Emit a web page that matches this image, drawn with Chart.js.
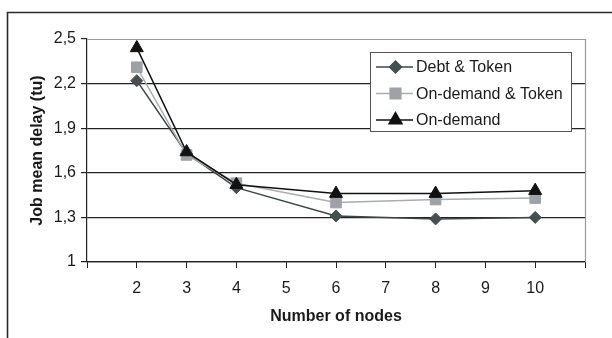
<!DOCTYPE html>
<html>
<head>
<meta charset="utf-8">
<script src="https://cdn.jsdelivr.net/npm/chart.js@4.4.1/dist/chart.umd.min.js"></script>
<style>
html,body{margin:0;padding:0;background:#fff;}
#wrap{position:relative;width:612px;height:338px;}
</style>
</head>
<body>
<div id="wrap"><canvas id="c" width="612" height="338"></canvas></div>
<script>
const nodes = [2, 3, 4, 6, 8, 10];
const debtToken = [2.22, 1.73, 1.50, 1.31, 1.29, 1.30];
const onDemandToken = [2.31, 1.72, 1.53, 1.40, 1.42, 1.43];
const onDemand = [2.44, 1.74, 1.52, 1.46, 1.46, 1.48];
const seriesNames = ['Debt & Token', 'On-demand & Token', 'On-demand'];
const xTitle = 'Number of nodes';
const yTitle = 'Job mean delay (tu)';

const FONT = "'Liberation Sans', Arial, sans-serif";
const toPts = arr => nodes.map((x, i) => ({x: x, y: arr[i]}));

const styles = [
  {color: '#3d4747', fill: '#454f4f', style: 'rectRot', radius: 6, order: 3},
  {color: '#a9adb1', fill: '#9ea2a7', style: 'rect', radius: 7.5, order: 2},
  {color: '#111111', fill: '#111111', style: 'triangle', radius: 7.5, order: 1}
];
const values = [debtToken, onDemandToken, onDemand];

const frame = {
  id: 'frame',
  beforeDraw(chart) {
    const ctx = chart.ctx;
    ctx.save();
    ctx.fillStyle = '#fff';
    ctx.fillRect(0, 0, chart.width, chart.height);
    ctx.strokeStyle = '#2a2a2a';
    ctx.lineWidth = 1.6;
    ctx.beginPath();
    ctx.moveTo(7.5, 338);
    ctx.lineTo(7.5, 12.5);
    ctx.lineTo(612, 12.5);
    ctx.stroke();
    ctx.restore();
  },
  afterDraw(chart) {
    const ctx = chart.ctx;
    const a = chart.chartArea;
    ctx.save();
    ctx.strokeStyle = '#9a9a9a';
    ctx.lineWidth = 1.2;
    ctx.beginPath();
    ctx.moveTo(a.left, a.top + 0.5);
    ctx.lineTo(a.right + 0.5, a.top + 0.5);
    ctx.lineTo(a.right + 0.5, a.bottom);
    ctx.stroke();
    // legend
    const bx = 370.5, by = 52.5, bw = 201, bh = 79;
    ctx.fillStyle = '#fff';
    ctx.fillRect(bx, by, bw, bh);
    ctx.strokeStyle = '#555';
    ctx.lineWidth = 1;
    ctx.strokeRect(bx, by, bw, bh);
    const rows = [67, 93.5, 120];
    chart.data.datasets.forEach((ds, i) => {
      const y = rows[i];
      ctx.strokeStyle = ds.borderColor;
      ctx.lineWidth = 1.5;
      ctx.beginPath();
      ctx.moveTo(376, y);
      ctx.lineTo(413, y);
      ctx.stroke();
      ctx.fillStyle = ds.pointBackgroundColor;
      ctx.strokeStyle = ds.pointBorderColor;
      Chart.helpers.drawPoint(ctx, {
        pointStyle: ds.pointStyle,
        radius: ds.pointRadius,
        rotation: 0,
        borderWidth: 1
      }, 395.5, y);
      ctx.fillStyle = '#1a1a1a';
      ctx.font = '16px ' + FONT;
      ctx.textAlign = 'left';
      ctx.textBaseline = 'middle';
      ctx.fillText(ds.label, 416, y + 1);
    });
    ctx.restore();
  }
};

new Chart(document.getElementById('c'), {
  type: 'line',
  data: {
    datasets: values.map((v, i) => ({
      label: seriesNames[i],
      data: toPts(v),
      borderColor: styles[i].color,
      borderWidth: 1.5,
      pointStyle: styles[i].style,
      pointRadius: styles[i].radius,
      pointHoverRadius: styles[i].radius,
      pointBackgroundColor: styles[i].fill,
      pointBorderColor: styles[i].fill,
      pointBorderWidth: 1,
      tension: 0,
      order: styles[i].order
    }))
  },
  options: {
    responsive: false,
    animation: false,
    devicePixelRatio: 1,
    layout: {padding: {left: 0, top: 39, right: 27, bottom: 0}},
    plugins: {legend: {display: false}, tooltip: {enabled: false}},
    scales: {
      x: {
        type: 'linear',
        min: 1, max: 11,
        afterFit(s) { s.height = 76; },
        ticks: {
          stepSize: 1,
          color: '#1a1a1a',
          font: {family: FONT, size: 16},
          padding: 11,
          maxRotation: 0,
          callback: v => (v <= 1 || v >= 11) ? '' : String(v)
        },
        grid: {drawOnChartArea: false, drawTicks: true, tickLength: 6, color: '#222', tickColor: '#222'},
        border: {color: '#222', width: 1.2},
        title: {
          display: true, text: xTitle, color: '#1a1a1a',
          font: {family: FONT, size: 16, weight: 'bold'},
          padding: {top: 0, bottom: 12}
        }
      },
      y: {
        min: 1, max: 2.5,
        afterFit(s) { s.width = 87; },
        ticks: {
          stepSize: 0.3,
          color: '#1a1a1a',
          font: {family: FONT, size: 16},
          padding: 5,
          callback: v => Math.abs(v - 1) < 1e-6 ? '1' : v.toFixed(1).replace('.', ',')
        },
        grid: {
          tickLength: 6,
          tickColor: '#222',
          lineWidth: 1.2,
          color: c => (c.tick && c.tick.value > 2.45) ? 'rgba(0,0,0,0)' : '#222'
        },
        border: {color: '#222', width: 1.2},
        title: {
          display: true, text: yTitle, color: '#1a1a1a',
          font: {family: FONT, size: 16, weight: 'bold'},
          padding: {top: 28, bottom: 0}
        }
      }
    }
  },
  plugins: [frame]
});
</script>
</body>
</html>
